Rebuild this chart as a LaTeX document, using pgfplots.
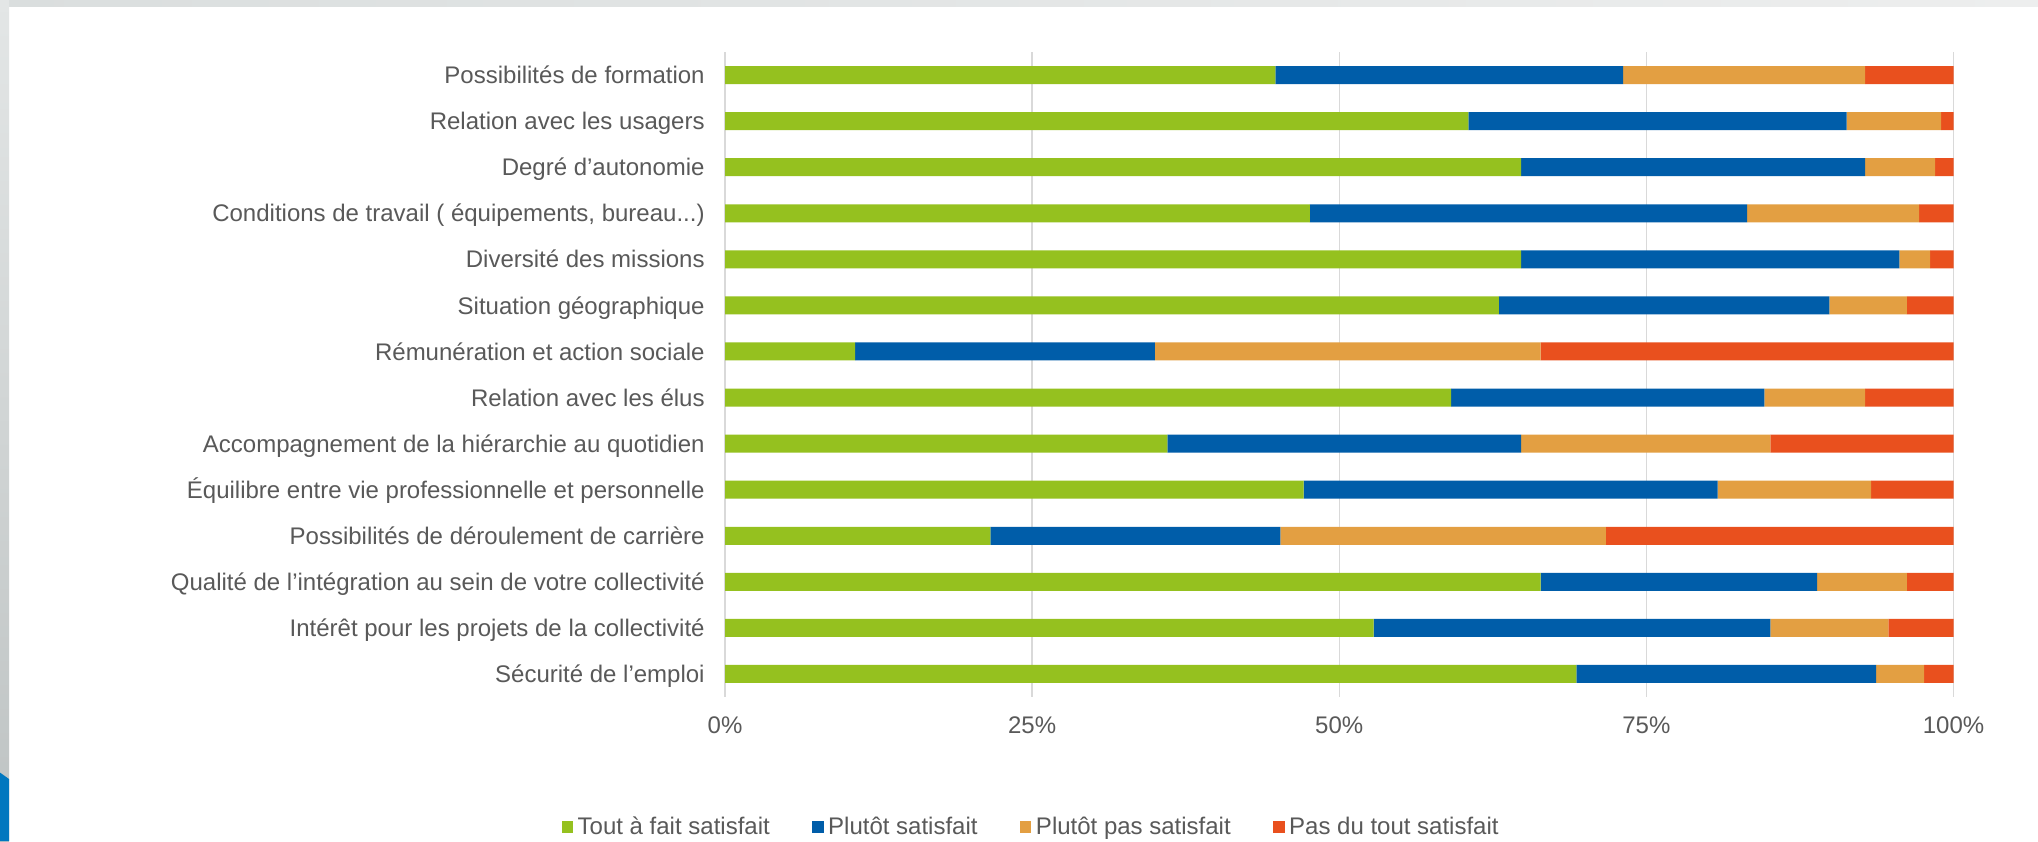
\documentclass[border=0pt]{standalone}
\usepackage{fontspec}
\setmainfont{Liberation Sans}
\usepackage{pgfplots}
\usepackage{pgfplotstable}
\pgfplotsset{compat=1.18}

\definecolor{cGreen}{HTML}{95C11F}
\definecolor{cBlue}{HTML}{005DA9}
\definecolor{cOrange}{HTML}{E39F42}
\definecolor{cRed}{HTML}{E9501E}
\definecolor{txt}{HTML}{595959}
\definecolor{gridc}{HTML}{D9D9D9}
\definecolor{frameBlue}{HTML}{0077BF}
\definecolor{frameTopL}{HTML}{DADEDE}
\definecolor{frameTopR}{HTML}{EDEEEE}
\definecolor{frameLeftT}{HTML}{E3E6E6}
\definecolor{frameLeftB}{HTML}{BEC3C3}

% Satisfaction shares (%), one row per item, top to bottom
\pgfplotstableread{
row tout plutot plutotpas pasdutout
0  44.8 28.3 19.7  7.2
1  60.5 30.8  7.7  1.0
2  64.8 28.0  5.7  1.5
3  47.6 35.6 14.0  2.8
4  64.8 30.8  2.5  1.9
5  63.0 26.9  6.3  3.8
6  10.6 24.4 31.4 33.6
7  59.1 25.5  8.2  7.2
8  36.0 28.8 20.3 14.9
9  47.1 33.7 12.5  6.7
10 21.6 23.6 26.5 28.3
11 66.4 22.5  7.3  3.8
12 52.8 32.3  9.6  5.3
13 69.3 24.4  3.9  2.4
}\satisfaction

\newcommand{\chartfont}{\fontsize{12pt}{14pt}\selectfont}

\begin{document}
\begin{tikzpicture}[x=1pt,y=1pt]
\useasboundingbox (0,0) rectangle (1019,420.5);
% page frame
\fill[white] (0,0) rectangle (1019,420.5);
\shade[left color=frameTopL, right color=frameTopR] (0,417) rectangle (1019,420.5);
\shade[top color=frameLeftT, bottom color=frameLeftB] (0,0) rectangle (4.5,420.5);
\fill[frameBlue] (0,0) -- (4.5,0) -- (4.5,31) -- (0,34.2) -- cycle;

\begin{axis}[
  at={(362.5pt,72pt)}, anchor=south west,
  scale only axis, width=614.25pt, height=322.5pt,
  xbar stacked, bar width=9pt,
  xmin=0, xmax=100, ymin=-0.5, ymax=13.5,
  y dir=reverse,
  axis line style={draw=none},
  major tick length=0pt,
  xmajorgrids, major grid style={gridc, line width=0.75pt},
  xtick={0,25,50,75,100},
  xticklabels={0\%,25\%,50\%,75\%,100\%},
  ytick={0,1,2,3,4,5,6,7,8,9,10,11,12,13},
  yticklabels={
    Possibilités de formation,
    Relation avec les usagers,
    Degré d’autonomie,
    {Conditions de travail ( équipements, bureau.{}.{}.)},
    Diversité des missions,
    Situation géographique,
    Rémunération et action sociale,
    Relation avec les élus,
    Accompagnement de la hiérarchie au quotidien,
    Équilibre entre vie professionnelle et personnelle,
    Possibilités de déroulement de carrière,
    Qualité de l’intégration au sein de votre collectivité,
    Intérêt pour les projets de la collectivité,
    Sécurité de l’emploi},
  yticklabel style={font=\chartfont, text=txt, inner sep=0pt, anchor=base east, xshift=-10pt, yshift=-4.3pt},
  xticklabel style={font=\chartfont, text=txt, inner sep=0pt, anchor=base, yshift=-18.3pt},
  legend columns=4,
  legend style={at={(0.2484,-0.2016)}, anchor=center, draw=none, fill=none,
    inner sep=0pt, font=\chartfont, text=txt,
    nodes={inner sep=0pt},
    /tikz/every odd column/.append style={column sep=2.25pt},
    /tikz/every even column/.append style={column sep=21.2pt}},
  legend image code/.code={\fill[#1] (0pt,-2.875pt) rectangle (5.75pt,2.875pt);},
]
\addplot[fill=cGreen, draw=none] table[x=tout, y=row] {\satisfaction};
\addplot[fill=cBlue, draw=none] table[x=plutot, y=row] {\satisfaction};
\addplot[fill=cOrange, draw=none] table[x=plutotpas, y=row] {\satisfaction};
\addplot[fill=cRed, draw=none] table[x=pasdutout, y=row] {\satisfaction};
\legend{Tout à fait satisfait, Plutôt satisfait, Plutôt pas satisfait, Pas du tout satisfait}
\end{axis}
\end{tikzpicture}
\end{document}
